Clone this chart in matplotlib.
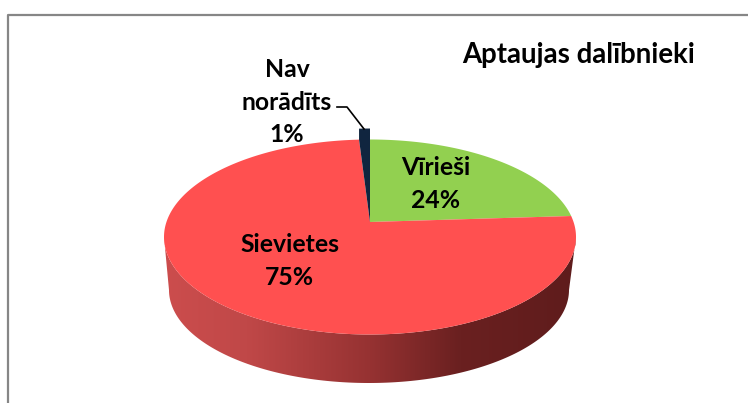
# recreate the 3D pie of survey participants
import numpy as np
import matplotlib.pyplot as plt
from matplotlib.colors import LinearSegmentedColormap
from matplotlib.patches import Polygon

plt.rcParams['font.family'] = ['Lato', 'DejaVu Sans']

# data, clockwise from the top of the pie
categories = ['Vīrieši', 'Sievietes', 'Nav\nnorādīts']
shares = [24, 75, 1]
slice_colors = ['#92D050', '#FF5050', '#10253F']
title = 'Aptaujas dalībnieki'

# geometry of the tilted pie, in pixels
cx, cy = 370, 237
rx, ry = 206, 97.5
apex_up = 15
lift = 11
bottom_cx, bottom_cy = 369, 290
bottom_rx, bottom_ry = 200, 93


def rim_point(angle):
    # ray from the off centre apex to the ellipse, gives the perspective look
    dx = rx * np.cos(angle)
    dy = ry * np.sin(angle)
    a = dx**2 / rx**2 + dy**2 / ry**2
    b = 2 * apex_up * dy / ry**2
    c = apex_up**2 / ry**2 - 1
    s = (-b + np.sqrt(b**2 - 4 * a * c)) / (2 * a)
    return cx + s * dx, cy - apex_up - s * dy


def slice_polygon(start, stop):
    angles = np.linspace(start, stop, max(int(abs(stop - start) * 80), 2))
    x, y = rim_point(angles)
    return np.r_[cx, x], np.r_[cy - apex_up, y]


fig = plt.figure(figsize=(7.48, 4.03), dpi=100)
ax = fig.add_axes([0, 0, 1, 1])
ax.set_xlim(0, 748)
ax.set_ylim(403, 0)
ax.axis('off')

# chart frame, cut by the picture on the right and the bottom
ax.plot([8, 8, 748], [403, 15, 15], color='#868686', lw=1.6)

# side wall: between the lower half of the top and the bottom ellipse
t = np.linspace(np.pi, 2 * np.pi, 200)
wall_x = np.r_[cx + rx * np.cos(t), (bottom_cx + bottom_rx * np.cos(t))[::-1]]
wall_y = np.r_[cy - ry * np.sin(t), (bottom_cy - bottom_ry * np.sin(t))[::-1]]
wall = Polygon(np.c_[wall_x, wall_y], closed=True, transform=ax.transData,
               fc='none', ec='none')
ax.add_patch(wall)
wall_cmap = LinearSegmentedColormap.from_list(
    'wall', [(0, '#CC4D4D'), (0.2, '#C04848'), (0.5, '#963232'),
             (0.72, '#6A2020'), (1, '#5F1C1C')])
img = ax.imshow(np.linspace(0, 1, 256)[None, :], cmap=wall_cmap, aspect='auto',
                extent=[cx - rx, cx + rx, 390, 225], zorder=1)
img.set_clip_path(wall)
ax.set_xlim(0, 748)
ax.set_ylim(403, 0)

# top faces of the slices
start = np.pi / 2
for share, color in zip(shares, slice_colors):
    stop = start - share / 100 * 2 * np.pi
    x, y = slice_polygon(start, stop)
    if color == slice_colors[2]:
        # the small slice stands up from the rim, its left foot stays on the rim
        x = np.r_[x[0], x[1], x[1], x[-1]]
        y = np.r_[y[0], y[1], y[1] - lift, y[-1] - lift]
    ax.fill(x, y, color=color, lw=0, zorder=2)
    start = stop

# labels
font = dict(fontsize=17.8, fontweight='bold', color='black', ha='center',
            va='center', zorder=4)
ax.text(435.5, 184, categories[0] + '\n' + str(shares[0]) + '%', linespacing=1.5, **font)
ax.text(289.5, 261, categories[1] + '\n' + str(shares[1]) + '%', linespacing=1.5, **font)
ax.text(287, 102, categories[2] + '\n' + str(shares[2]) + '%', linespacing=1.5, **font)
ax.text(579, 55, title, fontsize=19.9, fontweight='bold', color='black',
        ha='center', va='center', zorder=4)

# leader line of the small slice
ax.plot([337, 347, 364], [107, 107, 129], color='black', lw=1.2, zorder=3)

fig.savefig('out.png', dpi=100)
